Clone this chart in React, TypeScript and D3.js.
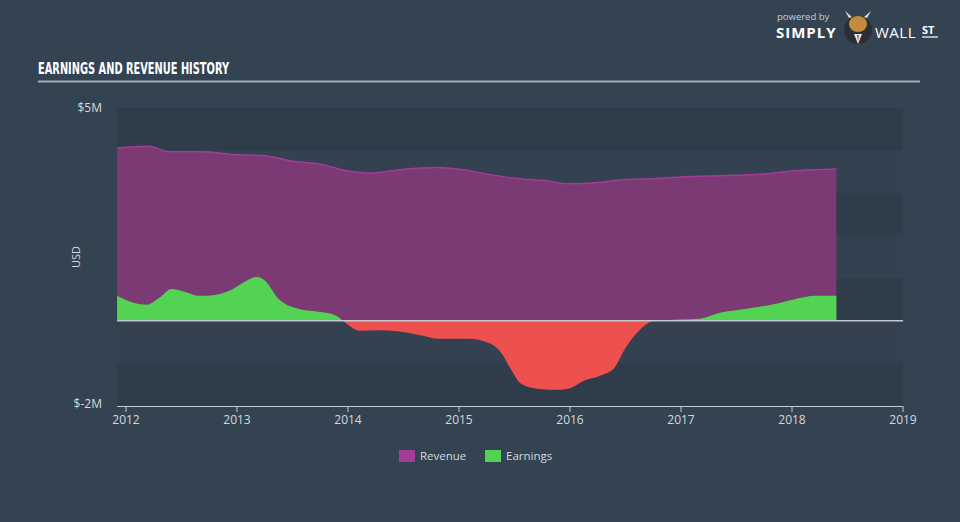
import * as d3 from "d3";
import React from "react";

// decimal years
const revenueDates = [2011.92, 2012.2, 2012.4, 2012.7, 2013.0, 2013.25, 2013.5, 2013.75, 2014.0, 2014.2, 2014.5, 2014.8, 2015.0, 2015.25, 2015.5, 2015.75, 2016.0, 2016.25, 2016.5, 2016.75, 2017.0, 2017.25, 2017.5, 2017.75, 2018.0, 2018.2, 2018.4];
const revenueValues = [4.06, 4.1, 3.97, 3.97, 3.9, 3.88, 3.75, 3.68, 3.52, 3.47, 3.56, 3.6, 3.56, 3.45, 3.35, 3.3, 3.22, 3.25, 3.32, 3.34, 3.38, 3.4, 3.42, 3.45, 3.52, 3.55, 3.57];

const earningsDates = [2011.92, 2012.04, 2012.19, 2012.3, 2012.41, 2012.53, 2012.66, 2012.8, 2012.95, 2013.07, 2013.18, 2013.25, 2013.38, 2013.56, 2013.75, 2013.88, 2014.0, 2014.1, 2014.28, 2014.46, 2014.64, 2014.82, 2015.09, 2015.27, 2015.38, 2015.47, 2015.56, 2015.72, 2015.9, 2016.01, 2016.13, 2016.26, 2016.4, 2016.49, 2016.63, 2016.76, 2017.0, 2017.17, 2017.35, 2017.53, 2017.71, 2017.89, 2018.08, 2018.2, 2018.4];
const earningsValues = [0.59, 0.45, 0.38, 0.54, 0.75, 0.68, 0.59, 0.61, 0.73, 0.92, 1.03, 0.95, 0.5, 0.28, 0.21, 0.14, -0.09, -0.23, -0.22, -0.25, -0.33, -0.42, -0.42, -0.52, -0.75, -1.15, -1.48, -1.6, -1.62, -1.57, -1.4, -1.3, -1.1, -0.68, -0.21, 0.0, 0.03, 0.05, 0.19, 0.26, 0.33, 0.42, 0.54, 0.59, 0.59];

const yearTicks = [2012, 2013, 2014, 2015, 2016, 2017, 2018, 2019];
const bandEdges = [5, 4, 3, 2, 1, 0, -1, -2];

const W = 960, H = 522;
const x = d3.scaleLinear().domain([2012, 2019]).range([126, 903]);
const y = d3.scaleLinear().domain([-2, 5]).range([406, 108]);
const x0 = x(2011.92);
const x1 = 903;

const revenue = revenueDates.map((d, i) => ({ d, v: revenueValues[i] }));
const earnings = earningsDates.map((d, i) => ({ d, v: earningsValues[i] }));

const curve = d3.curveMonotoneX;
const revArea = d3.area<{ d: number; v: number }>().x(p => x(p.d)).y0(y(0)).y1(p => y(p.v)).curve(curve);
const revLine = d3.line<{ d: number; v: number }>().x(p => x(p.d)).y(p => y(p.v)).curve(curve);
const earnArea = d3.area<{ d: number; v: number }>().x(p => x(p.d)).y0(y(0)).y1(p => y(p.v)).curve(curve);

const App = () => {
  const font = "'Open Sans', 'DejaVu Sans', sans-serif";
  return (
    <svg width={W} height={H} style={{ position: "absolute", left: 0, top: 0, display: "block" }} fontFamily={font}>
      <defs>
        <clipPath id="pos"><rect x={0} y={0} width={W} height={y(0)} /></clipPath>
        <clipPath id="neg"><rect x={0} y={y(0)} width={W} height={H} /></clipPath>
      </defs>
      <rect width={W} height={H} fill="#344352" />

      {/* header */}
      <text x={38} y={74} fill="#ffffff" fontFamily="'DejaVu Sans Condensed', 'Liberation Sans Narrow', sans-serif" fontWeight="bold" fontSize={15} textLength={191} lengthAdjust="spacingAndGlyphs">EARNINGS AND REVENUE HISTORY</text>
      <line x1={38} x2={920} y1={81.5} y2={81.5} stroke="#a5adb6" strokeWidth={2} />

      {/* logo */}
      <text x={777} y={20} fill="#c9cdd2" fontSize={9.5}>powered by</text>
      <text x={776} y={38} fill="#ffffff" fontSize={15} fontWeight="bold" letterSpacing={1}>SIMPLY</text>
      <circle cx={858} cy={30} r={14} fill="#2a2f36" />
      <ellipse cx={858} cy={24} rx={9} ry={8} fill="#c48a3e" />
      <path d="M 849 18 L 845 11 L 852 17 Z M 867 18 L 871 11 L 864 17 Z" fill="#e8d9b8" />
      <path d="M 854 34 L 862 34 L 858 44 Z" fill="#e9ecef" />
      <path d="M 857 35 L 859 35 L 858 42 Z" fill="#e23b2e" />
      <text x={875} y={38} fill="#ffffff" fontSize={15} letterSpacing={0.5}>WALL</text>
      <text x={922} y={34} fill="#ffffff" fontSize={11} fontWeight="bold">ST</text>
      <line x1={922} x2={938} y1={37} y2={37} stroke="#ffffff" strokeWidth={1.2} />

      {/* background bands */}
      {bandEdges.slice(0, -1).map((b, i) => (
        <rect key={b} x={x0} y={y(b)} width={x1 - x0} height={y(b - 1) - y(b)} fill={i % 2 === 0 ? "#2f3d4b" : "#334150"} />
      ))}

      {/* series */}
      <path d={revArea(revenue) || ""} fill="#7b3a74" />
      <path d={revLine(revenue) || ""} fill="none" stroke="#a23d98" strokeWidth={1.5} />
      <path d={earnArea(earnings) || ""} fill="#52d452" clipPath="url(#pos)" />
      <path d={earnArea(earnings) || ""} fill="#ee5050" clipPath="url(#neg)" />

      {/* zero line */}
      <line x1={x0} x2={x1} y1={y(0)} y2={y(0)} stroke="#c4c9cf" strokeWidth={1.5} />

      {/* y labels */}
      <text x={102} y={y(5) + 4} textAnchor="end" fill="#d5d9dd" fontSize={12}>$5M</text>
      <text x={102} y={y(-2) + 2} textAnchor="end" fill="#d5d9dd" fontSize={12}>$-2M</text>
      <text transform={`translate(80, ${y(1.5)}) rotate(-90)`} textAnchor="middle" fill="#d5d9dd" fontSize={11}>USD</text>

      {/* x axis */}
      <line x1={x0} x2={x1} y1={406.5} y2={406.5} stroke="#c4c9cf" strokeWidth={1} />
      {yearTicks.map(t => (
        <g key={t}>
          <line x1={x(t)} x2={x(t)} y1={406} y2={412} stroke="#c4c9cf" strokeWidth={1} />
          <text x={x(t)} y={424} textAnchor="middle" fill="#d5d9dd" fontSize={12}>{t}</text>
        </g>
      ))}

      {/* legend */}
      <rect x={399} y={450} width={16} height={12} fill="#a23d98" />
      <text x={420} y={460} fill="#d5d9dd" fontSize={11.5}>Revenue</text>
      <rect x={485} y={450} width={16} height={12} fill="#52d452" />
      <text x={506} y={460} fill="#d5d9dd" fontSize={11.5}>Earnings</text>
    </svg>
  );
};

export default App;
